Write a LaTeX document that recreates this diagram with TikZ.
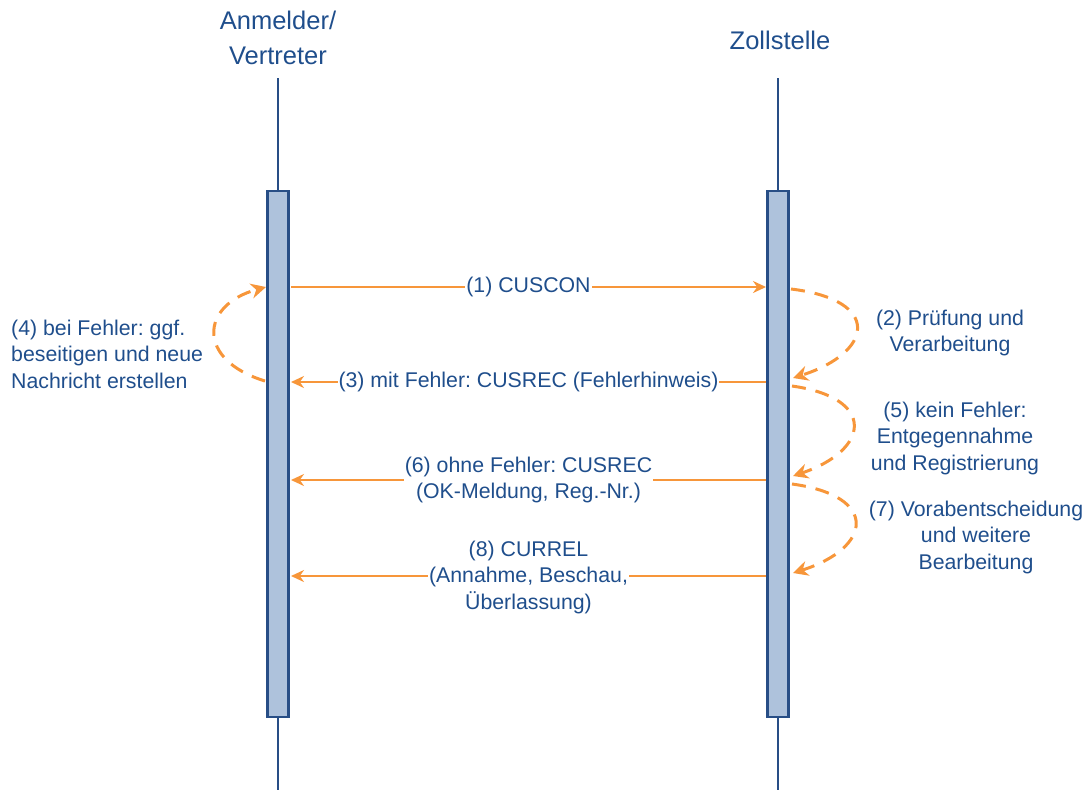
\documentclass[tikz,border=0pt]{standalone}
\usepackage{fontspec}
\setmainfont{Liberation Sans}
\usetikzlibrary{positioning,arrows.meta}
\definecolor{zblue}{HTML}{1F4E8C}
\definecolor{zline}{HTML}{284E86}
\definecolor{zfill}{HTML}{AEC2DC}
\definecolor{zorange}{HTML}{F7963A}
\frenchspacing

\begin{document}
\begin{tikzpicture}[x=1pt,y=-1pt,
    title/.style={text=zblue,align=center,font=\fontsize{25.5}{35}\selectfont},
    lbl/.style={text=zblue,align=center,font=\fontsize{21.3}{26.5}\selectfont,inner sep=1pt},
    msglbl/.style={lbl,fill=white},
    lifebar/.style={draw=zline,fill=zfill,line width=2.5pt,minimum width=21,minimum height=526,inner sep=0pt},
    lifeline/.style={draw=zline,line width=2.5pt},
    msg/.style={draw=zorange,line width=2.2pt,-{Stealth[length=13pt,width=12pt]}},
    self/.style={draw=zorange,line width=3pt,dash pattern=on 14pt off 10pt,-{Stealth[length=15pt,width=15pt]}}]
    \useasboundingbox (0,0) rectangle (1089,793);
    % lifelines
    \node[title] at (278,38) (anm) {Anmelder/\\Vertreter};
    \node[title] at (780,40) (zoll) {Zollstelle};
    \coordinate (antop) at (278,78);
    \coordinate (anbot) at (278,790);
    \coordinate (zotop) at (778,78);
    \coordinate (zobot) at (778,790);
    \draw[lifeline] (antop) -- (anbot);
    \draw[lifeline] (zotop) -- (zobot);
    \node[lifebar] at (278,454) (anbar) {};
    \node[lifebar] at (778,454) (zobar) {};
    % message points
    \coordinate (a1) at (291,287);
    \coordinate (z1) at (766,287);
    \coordinate (a3) at (291,382);
    \coordinate (z3) at (766,382);
    \coordinate (a6) at (291,480);
    \coordinate (z6) at (766,480);
    \coordinate (a8) at (291,576);
    \coordinate (z8) at (766,576);
    % messages
    \draw[msg] (a1) -- node[msglbl] (m1) {(1) CUSCON} (z1);
    \draw[msg] (z3) -- node[msglbl] (m3) {(3) mit Fehler: CUSREC (Fehlerhinweis)} (a3);
    \draw[msg] (z6) -- node[msglbl] (m6) {(6) ohne Fehler: CUSREC\\(OK-Meldung, Reg.-Nr.)} (a6);
    \draw[msg] (z8) -- node[msglbl,yshift=-1] (m8) {(8) CURREL\\(Annahme, Beschau,\\Überlassung)} (a8);
    % self steps
    \coordinate (s2a) at (791,289);
    \coordinate (s2b) at (793,378);
    \coordinate (s5a) at (792,386);
    \coordinate (s5b) at (793,476);
    \coordinate (s7a) at (792,484);
    \coordinate (s7b) at (793,573);
    \coordinate (s4a) at (265,381);
    \coordinate (s4b) at (266,287);
    \draw[self] (s2a) .. controls (882,300) and (874,352) .. (s2b);
    \draw[self] (s5a) .. controls (877,398) and (870,450) .. (s5b);
    \draw[self] (s7a) .. controls (880,496) and (872,548) .. (s7b);
    \draw[self] (s4a) .. controls (196,360) and (200,305) .. (s4b);
    \node[lbl] at (950,333) (t2) {(2) Prüfung und\\Verarbeitung};
    \node[lbl] at (955,438) (t5) {(5) kein Fehler:\\Entgegennahme\\und Registrierung};
    \node[lbl] at (976,537) (t7) {(7) Vorabentscheidung\\und weitere\\Bearbeitung};
    \node[lbl,align=left,anchor=west] at (10,354) (t4) {(4) bei Fehler: ggf.\\beseitigen und neue\\Nachricht erstellen};
\end{tikzpicture}
\end{document}
